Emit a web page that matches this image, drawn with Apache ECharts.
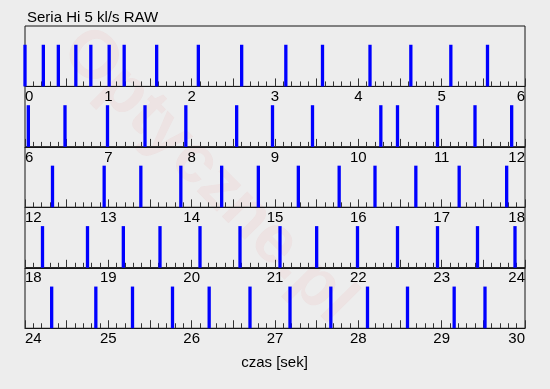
<!DOCTYPE html>
<html>
<head>
<meta charset="utf-8">
<script src="https://cdn.jsdelivr.net/npm/echarts@6/dist/echarts.min.js"></script>
<style>
html,body{margin:0;padding:0;background:#ededed;}
#c{width:550px;height:389px;}
</style>
</head>
<body>
<div id="c"></div>
<script>
// Impulse times (seconds) per 6-second panel
const panel1 = [0.00, 0.22, 0.40, 0.61, 0.79, 1.01, 1.19, 1.58, 2.08, 2.60, 3.13, 3.57, 4.14, 4.63, 5.11, 5.55];
const panel2 = [6.04, 6.48, 6.99, 7.44, 7.93, 8.54, 8.97, 9.45, 10.27, 10.47, 10.95, 11.40, 11.84];
const panel3 = [12.33, 12.95, 13.39, 13.87, 14.36, 14.80, 15.28, 15.77, 16.20, 16.69, 17.21, 17.78];
const panel4 = [18.21, 18.75, 19.18, 19.62, 20.10, 20.58, 21.06, 21.50, 21.99, 22.47, 22.95, 23.43, 23.88];
const panel5 = [24.32, 24.85, 25.29, 25.77, 26.21, 26.70, 27.18, 27.67, 28.11, 28.59, 29.15, 29.52];
const panels = [panel1, panel2, panel3, panel4, panel5];
const panelStarts = [0, 6, 12, 18, 24];
const panelSpan = 6;
const impulseHeight = 1;

const titleText = 'Seria Hi 5 kl/s RAW';
const axisTitle = 'czas [sek]';

const chart = echarts.init(document.getElementById('c'), null, {renderer: 'canvas'});
const FONT = 'Liberation Sans, Arial, Helvetica, sans-serif';
const top0 = 26, ph = 60.45, left = 25, right = 25;

const grid = [], xAxis = [], yAxis = [], series = [];
panels.forEach((p, i) => {
  grid.push({
    left: left, right: right, top: top0 + i * ph, height: ph,
    show: true, borderColor: '#151515', borderWidth: 1, backgroundColor: 'transparent'
  });
  xAxis.push({
    type: 'value', gridIndex: i,
    min: panelStarts[i], max: panelStarts[i] + panelSpan, interval: 0.5,
    axisLine: {show: true, onZero: false, lineStyle: {color: '#151515', width: 1}},
    axisTick: {show: true, inside: true, length: 8, lineStyle: {color: '#333', width: 1}},
    minorTick: {show: true, splitNumber: 5, length: 5, lineStyle: {color: '#333', width: 1}},
    splitLine: {show: false},
    axisLabel: {
      show: true, margin: 3, color: '#000', fontSize: 15, fontFamily: FONT,
      alignMinLabel: 'left', alignMaxLabel: 'right',
      formatter: v => (Math.abs(v - Math.round(v)) < 1e-9 ? String(Math.round(v)) : '')
    }
  });
  yAxis.push({
    type: 'value', gridIndex: i, min: 0, max: 1.45, show: false,
    splitLine: {show: false}
  });
  series.push({
    type: 'bar', xAxisIndex: i, yAxisIndex: i,
    data: p.map(t => [t, impulseHeight]),
    barWidth: 3.3, clip: false,
    itemStyle: {color: '#0000ff'},
    silent: true, animation: false
  });
});

chart.setOption({
  backgroundColor: '#ededed',
  animation: false,
  textStyle: {fontFamily: FONT},
  grid, xAxis, yAxis, series,
  graphic: [
    {
      type: 'text', x: 208, y: 176, rotation: -0.79, z: -10,
      style: {
        text: 'Optyczne.pl', font: 'bold 68px ' + FONT,
        fill: 'rgba(230,50,50,0.055)', align: 'center', verticalAlign: 'middle'
      }
    },
    {
      type: 'text', left: 27, top: 10,
      style: {text: titleText, font: '15px ' + FONT, fill: '#000'}
    },
    {
      type: 'text', x: 274.5, y: 363,
      style: {text: axisTitle, font: '15px ' + FONT, fill: '#000', align: 'center', verticalAlign: 'middle'}
    }
  ]
});
</script>
</body>
</html>
